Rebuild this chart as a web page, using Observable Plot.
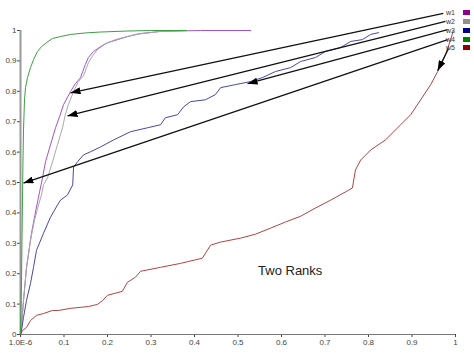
<!DOCTYPE html>
<html><head><meta charset="utf-8">
<script src="https://cdn.jsdelivr.net/npm/d3@7"></script>
<script src="https://cdn.jsdelivr.net/npm/@observablehq/plot@0.6"></script>
<style>
body{margin:0;background:#fff;}
#wrap{position:relative;width:474px;height:353px;font-family:"Liberation Sans",Arial,sans-serif;}
#legend{position:absolute;right:4px;top:8.6px;}
.li{display:flex;align-items:center;justify-content:flex-end;height:8.7px;font-size:7px;color:#333;}
.li .sw{width:7px;height:5px;margin-left:8px;}
</style></head>
<body>
<div id="wrap"><div id="legend"></div></div>
<script>
const seriesNames = ["w1","w2","w3","w4","w5"];
const lineColors = ["#a454c4","#a8a8a8","#4848a8","#3c9e44","#b04444"];
const legendColors = ["#900090","#909090","#000090","#008000","#900000"];

const w1x = [0,0.0023,0.0069,0.0138,0.0253,0.0345,0.0414,0.0506,0.0575,0.069,0.0805,0.0897,0.0989,0.115,0.126,0.138,0.143,0.149,0.156,0.168,0.184,0.2,0.223,0.246,0.276,0.322,0.414,0.529];
const w1y = [0,0.023,0.112,0.221,0.333,0.403,0.452,0.515,0.568,0.624,0.680,0.716,0.756,0.799,0.825,0.845,0.865,0.888,0.911,0.931,0.947,0.960,0.970,0.980,0.990,0.997,1.0,1.0];

const w2x = [0,0.0023,0.0069,0.0138,0.023,0.0322,0.0414,0.0483,0.0529,0.062,0.0736,0.085,0.0966,0.103,0.110,0.122,0.133,0.145,0.152,0.156,0.166,0.177,0.193,0.218,0.264,0.322,0.382];
const w2y = [0,0.030,0.112,0.218,0.310,0.376,0.426,0.459,0.492,0.515,0.568,0.624,0.680,0.723,0.756,0.799,0.832,0.851,0.878,0.894,0.917,0.937,0.954,0.970,0.987,0.997,1.0];

const w3x = [0,0.0023,0.0069,0.0138,0.023,0.0299,0.0368,0.0529,0.069,0.085,0.092,0.108,0.120,0.122,0.131,0.145,0.161,0.184,0.214,0.253,0.292,0.322,0.333,0.361,0.375,0.391,0.425,0.448,0.46,0.494,0.529,0.556,0.586,0.621,0.644,0.678,0.701,0.736,0.759,0.786,0.805,0.823];
const w3y = [0,0.013,0.056,0.112,0.168,0.221,0.277,0.333,0.386,0.426,0.442,0.459,0.492,0.551,0.568,0.591,0.601,0.617,0.640,0.667,0.680,0.690,0.713,0.723,0.749,0.766,0.772,0.789,0.812,0.822,0.832,0.845,0.865,0.878,0.898,0.911,0.931,0.944,0.964,0.970,0.987,0.993];

const w4x = [0,0.0011,0.0023,0.0034,0.0046,0.0057,0.0069,0.0092,0.0115,0.0161,0.023,0.0299,0.0391,0.0483,0.0598,0.0736,0.092,0.115,0.149,0.184,0.241,0.299,0.382];
const w4y = [0,0.079,0.178,0.310,0.442,0.574,0.673,0.772,0.812,0.845,0.878,0.904,0.931,0.947,0.960,0.974,0.980,0.987,0.992,0.995,0.998,1.0,1.0];

const w5x = [0,0.0046,0.0138,0.023,0.0368,0.0529,0.0736,0.0874,0.115,0.156,0.177,0.189,0.2,0.234,0.246,0.264,0.276,0.322,0.368,0.418,0.437,0.460,0.506,0.540,0.575,0.609,0.644,0.678,0.713,0.747,0.763,0.770,0.782,0.805,0.839,0.874,0.897,0.920,0.943,0.959,0.977,0.989,0.995];
const w5y = [0,0.013,0.023,0.046,0.063,0.069,0.079,0.079,0.086,0.092,0.099,0.112,0.129,0.142,0.172,0.188,0.208,0.221,0.234,0.251,0.294,0.304,0.317,0.330,0.350,0.370,0.389,0.416,0.442,0.469,0.482,0.541,0.574,0.607,0.640,0.690,0.723,0.772,0.822,0.865,0.921,0.970,1.0];

const xTicks = [0,0.1,0.2,0.3,0.4,0.5,0.6,0.7,0.8,0.9,1];
const xTickLabels = ["1.0E-6","0.1","0.2","0.3","0.4","0.5","0.6","0.7","0.8","0.9","1"];
const yTicks = [0,0.1,0.2,0.3,0.4,0.5,0.6,0.7,0.8,0.9,1];
const yTickLabels = ["0","0.1","0.2","0.3","0.4","0.5","0.6","0.7","0.8","0.9","1"];

// annotation arrows (data coordinates): from legend label to curve
const arrowX1 = [0.972,0.977,0.982,0.982,0.984];
const arrowY1 = [1.056,1.030,1.003,0.970,0.941];
const arrowX2 = [0.115,0.108,0.522,0.0069,0.959];
const arrowY2 = [0.795,0.719,0.825,0.498,0.868];

const annotationText = ["Two Ranks"];
const annotationX = [0.62];
const annotationY = [0.21];

const xs = [w1x,w2x,w3x,w4x,w5x];
const ys = [w1y,w2y,w3y,w4y,w5y];
const rows = [];
seriesNames.forEach((s,k)=>xs[k].forEach((x,i)=>rows.push({series:s,x,y:ys[k][i]})));
const arrows = arrowX1.map((x1,i)=>({x1,y1:arrowY1[i],x2:arrowX2[i],y2:arrowY2[i]}));
const notes = annotationText.map((t,i)=>({t,x:annotationX[i],y:annotationY[i]}));

const plot = Plot.plot({
  width:474, height:353,
  marginLeft:20, marginRight:19, marginTop:30, marginBottom:19,
  style:{background:"#fff", color:"#444", fontFamily:"'Liberation Sans', Arial, sans-serif", fontSize:"8px", overflow:"visible"},
  x:{domain:[0,1], ticks:xTicks, tickFormat:d=>xTickLabels[xTicks.indexOf(d)], tickSize:3, tickPadding:2, label:null},
  y:{domain:[0,1], ticks:yTicks, tickFormat:d=>yTickLabels[yTicks.indexOf(d)], tickSize:3, tickPadding:1, label:null},
  color:{domain:seriesNames, range:lineColors},
  marks:[
    Plot.ruleY([0],{x1:0,x2:1,stroke:"#777",strokeWidth:1}),
    Plot.ruleX([0],{y1:0,y2:1,stroke:"#999",strokeWidth:2}),
    Plot.line(rows,{x:"x",y:"y",z:"series",stroke:"series",strokeWidth:1}),
    Plot.link(arrows,{x1:"x1",y1:"y1",x2:"x2",y2:"y2",stroke:"#111",strokeWidth:1.3}),
    Plot.text(notes,{x:"x",y:"y",text:"t",fontSize:13,fill:"#222",fontFamily:"'Liberation Sans', Arial, sans-serif"})
  ]
});

// filled arrowheads
const svgns = "http://www.w3.org/2000/svg";
const defs = document.createElementNS(svgns,"defs");
const marker = document.createElementNS(svgns,"marker");
marker.setAttribute("id","ahead");
marker.setAttribute("viewBox","0 0 10 10");
marker.setAttribute("refX","10");
marker.setAttribute("refY","5");
marker.setAttribute("markerWidth","10");
marker.setAttribute("markerHeight","7");
marker.setAttribute("markerUnits","userSpaceOnUse");
marker.setAttribute("orient","auto");
marker.setAttribute("preserveAspectRatio","none");
const mp = document.createElementNS(svgns,"path");
mp.setAttribute("d","M0,0L10,5L0,10Z");
mp.setAttribute("fill","#000");
marker.appendChild(mp);
defs.appendChild(marker);
plot.insertBefore(defs, plot.firstChild);
plot.querySelectorAll('g[aria-label="link"] path, g[aria-label="link"] line').forEach(p=>p.setAttribute("marker-end","url(#ahead)"));

document.getElementById("wrap").prepend(plot);

const lg = document.getElementById("legend");
seriesNames.forEach((s,i)=>{
  const row = document.createElement("div");
  row.className = "li";
  const lab = document.createElement("span"); lab.textContent = s;
  const sw = document.createElement("span"); sw.className="sw"; sw.style.background = legendColors[i];
  row.appendChild(lab); row.appendChild(sw);
  lg.appendChild(row);
});
</script>
</body></html>
